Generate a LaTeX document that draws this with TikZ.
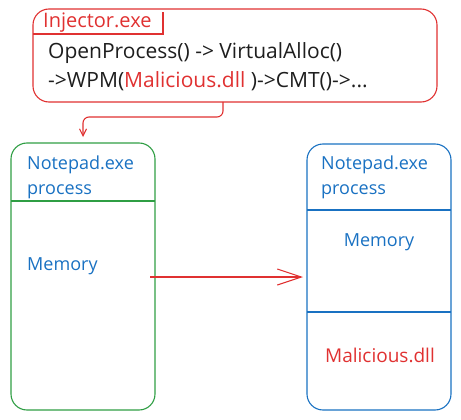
\documentclass[tikz,border=0pt]{standalone}
\usepackage{fontspec}
\setmainfont{Open Sans}
\usetikzlibrary{arrows.meta}
\definecolor{exred}{HTML}{E03131}
\definecolor{exgreen}{HTML}{2F9E44}
\definecolor{exblue}{HTML}{1971C2}
\definecolor{exblack}{HTML}{1E1E1E}
\tikzset{
  boxline/.style={line width=1.1pt, rounded corners=16pt},
  divline/.style={line width=1.1pt},
  codetext/.style={anchor=west, inner sep=0pt, text=exblack, font=\fontsize{21}{24}\selectfont},
  bluetext/.style={inner sep=0pt, text=exblue, font=\fontsize{18}{25}\selectfont},
  redtext/.style={inner sep=0pt, text=exred, font=\fontsize{19}{25}\selectfont},
  conn/.style={exred, line width=1.1pt},
}
\begin{document}
\begin{tikzpicture}[x=1pt,y=-1pt]
\useasboundingbox (0,0) rectangle (461,420);
% top box
\draw[boxline, exred] (33,9) rectangle (437,102);
\coordinate (tabr) at (163,12);
\draw[divline, exred] (33,34) -- (163,34) -- (tabr);
\node[redtext, anchor=west, font=\fontsize{20}{24}\selectfont] (inj) at (43,22.5) {Injector.exe};
\node[codetext] (l1) at (48,53) {OpenProcess() -> VirtualAlloc()};
\node[codetext] (l2) at (48,81) {->WPM(\textcolor{exred}{Malicious.dll} )->CMT()->...};
\coordinate (top) at (223,102);
% left box
\draw[boxline, exgreen] (11,143) rectangle (155,410);
\draw[divline, exgreen] (11,201) -- (155,201);
\node[bluetext, anchor=west, align=left] (np1) at (27,177) {Notepad.exe\\process};
\node[bluetext, anchor=west] (mem1) at (27,266) {Memory};
\coordinate (ltop) at (83,137);
% right box
\draw[boxline, exblue] (307,144) rectangle (451,410);
\draw[divline, exblue] (307,210) -- (451,210);
\draw[divline, exblue] (307,312) -- (451,312);
\node[bluetext, anchor=west, align=left] (np2) at (321,177) {Notepad.exe\\process};
\node[bluetext] (mem2) at (379,242) {Memory};
\node[redtext] (mal) at (380,355) {Malicious.dll};
% connectors
\draw[conn, rounded corners=6pt, -{Straight Barb[length=7pt,width=7pt]}] (top) -- (223,117) -- (83,117) -- (ltop);
\coordinate (a1) at (150,277);
\coordinate (a2) at (303,277);
\draw[conn, -{Straight Barb[length=24pt,width=16pt]}] (a1) -- (a2);
\end{tikzpicture}
\end{document}
